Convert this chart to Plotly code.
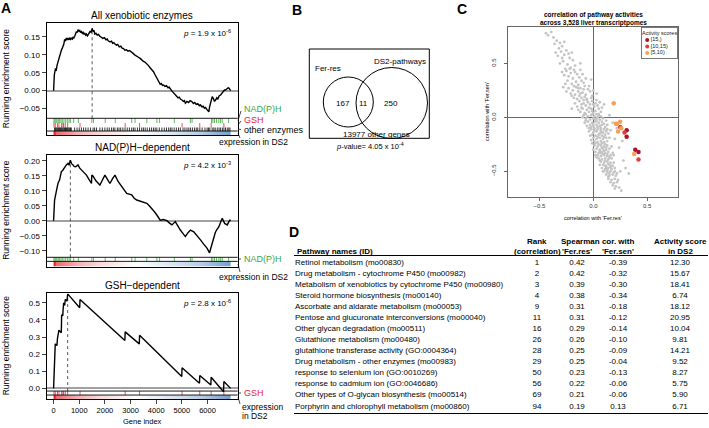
import plotly.graph_objects as go

W, H = 709, 428
FONT = "Liberation Sans, Arial, sans-serif"
GREEN = "#3aa83a"
RED = "#e3243b"

# ---------------- panel A: running enrichment scores ----------------
n_genes = 6900
gene_ticks = [0, 1000, 2000, 3000, 4000, 5000, 6000]
panel_titles = ["All xenobiotic enzymes", "NAD(P)H\u2212dependent", "GSH\u2212dependent"]
p_values = ["1.9 x 10<sup>-6</sup>", "4.2 x 10<sup>-3</sup>", "2.8 x 10<sup>-6</sup>"]

all_curve = [
    (0, 0.0), (30, 0.045), (70, 0.06), (105, 0.058), (140, 0.072), (170, 0.081), (200, 0.09), (235, 0.1),
    (270, 0.105), (300, 0.112), (335, 0.118), (366, 0.123), (400, 0.13), (431, 0.143), (470, 0.14),
    (500, 0.147), (530, 0.143), (562, 0.146), (600, 0.142), (630, 0.148), (660, 0.143), (693, 0.146),
    (730, 0.144), (760, 0.15), (790, 0.147), (823, 0.152), (860, 0.158), (890, 0.165), (920, 0.162),
    (954, 0.17), (990, 0.166), (1020, 0.168), (1050, 0.162), (1085, 0.165), (1120, 0.16), (1150, 0.163),
    (1185, 0.158), (1216, 0.16), (1250, 0.155), (1280, 0.158), (1320, 0.153), (1346, 0.156), (1380, 0.16),
    (1420, 0.165), (1460, 0.163), (1503, 0.174), (1540, 0.165), (1575, 0.168), (1608, 0.158), (1650, 0.16),
    (1700, 0.155), (1750, 0.157), (1804, 0.152), (1860, 0.15), (1920, 0.146), (1980, 0.148), (2040, 0.142),
    (2090, 0.144), (2130, 0.139), (2200, 0.136), (2260, 0.138), (2300, 0.132), (2350, 0.134), (2392, 0.13),
    (2450, 0.127), (2500, 0.129), (2560, 0.122), (2620, 0.124), (2680, 0.118), (2719, 0.118), (2780, 0.113),
    (2840, 0.114), (2900, 0.11), (2960, 0.112), (3045, 0.108), (3100, 0.104), (3160, 0.1), (3220, 0.098),
    (3290, 0.094), (3372, 0.09), (3430, 0.086), (3500, 0.082), (3560, 0.08), (3633, 0.076), (3700, 0.07),
    (3760, 0.064), (3820, 0.06), (3895, 0.053), (3950, 0.045), (4000, 0.038), (4060, 0.03), (4100, 0.025),
    (4156, 0.018), (4200, 0.02), (4240, 0.015), (4287, 0.016), (4340, 0.012), (4400, 0.014), (4460, 0.008),
    (4500, 0.01), (4548, 0.004), (4600, 0.0), (4650, -0.004), (4700, -0.008), (4744, -0.012), (4800, -0.015),
    (4850, -0.02), (4900, -0.018), (4950, -0.024), (5006, -0.026), (5060, -0.03), (5100, -0.028),
    (5137, -0.035), (5200, -0.03), (5260, -0.033), (5320, -0.028), (5398, -0.031), (5450, -0.036),
    (5500, -0.033), (5560, -0.038), (5620, -0.036), (5680, -0.042), (5725, -0.04), (5780, -0.045),
    (5830, -0.043), (5880, -0.049), (5921, -0.047), (5980, -0.053), (6020, -0.055), (6051, -0.059),
    (6080, -0.045), (6110, -0.035), (6150, -0.025), (6182, -0.017), (6230, -0.022), (6270, -0.03),
    (6313, -0.026), (6360, -0.02), (6400, -0.024), (6450, -0.015), (6509, -0.012), (6560, -0.008),
    (6600, -0.002), (6660, 0.002), (6705, 0.002), (6760, 0.006), (6800, 0.008), (6835, 0.007),
    (6870, 0.002), (6900, 0.0),
]

nadph_curve = [
    (0, 0.0), (39, 0.069), (105, 0.097), (170, 0.124), (235, 0.136), (301, 0.163), (366, 0.169),
    (431, 0.18), (497, 0.186), (562, 0.191), (600, 0.185), (654, 0.202), (700, 0.19), (758, 0.186),
    (800, 0.181), (863, 0.18), (954, 0.186), (1020, 0.175), (1085, 0.169), (1180, 0.16), (1281, 0.152),
    (1380, 0.138), (1477, 0.124), (1490, 0.152), (1542, 0.148), (1650, 0.133), (1804, 0.119), (1900, 0.135),
    (2000, 0.152), (2100, 0.138), (2196, 0.124), (2300, 0.14), (2392, 0.152), (2520, 0.13), (2653, 0.113),
    (2750, 0.1), (2849, 0.091), (3045, 0.086), (3140, 0.075), (3241, 0.069), (3340, 0.066), (3437, 0.063),
    (3540, 0.06), (3633, 0.058), (3730, 0.05), (3830, 0.041), (3930, 0.03), (4025, 0.019), (4090, 0.01),
    (4156, 0.002), (4280, 0.004), (4418, 0.0), (4520, -0.008), (4614, -0.014), (4744, -0.003),
    (4840, -0.018), (4940, -0.031), (5040, -0.042), (5137, -0.053), (5240, -0.04), (5333, -0.031),
    (5464, -0.037), (5600, -0.05), (5725, -0.064), (5850, -0.078), (5986, -0.092), (6078, -0.107),
    (6130, -0.09), (6182, -0.076), (6247, -0.048), (6300, -0.04), (6352, -0.031), (6443, -0.02),
    (6510, -0.005), (6574, 0.008), (6666, -0.009), (6770, -0.014), (6830, -0.004), (6875, 0.002),
    (6900, 0.0),
]

gsh_curve = [
    (0, 0.0), (15, 0.1), (40, 0.105), (65, 0.26), (131, 0.25), (150, 0.29), (209, 0.34), (301, 0.325),
    (314, 0.43), (360, 0.425), (366, 0.45), (392, 0.5), (431, 0.485), (457, 0.52), (523, 0.51),
    (549, 0.552), (1017, 0.471), (1030, 0.519), (2778, 0.28), (2790, 0.33), (3340, 0.26), (3352, 0.31),
    (4995, 0.07), (5007, 0.12), (5686, 0.03), (5698, 0.075), (6129, 0.02), (6141, 0.065), (6625, -0.02),
    (6637, 0.04), (6900, 0.0),
]

peak_gene = [1503, 654, 549]
peak_score = [0.174, 0.202, 0.552]

nadph_hits = [13, 52, 92, 131, 183, 235, 288, 340, 405, 471, 536, 601, 654, 784, 967, 1490, 1555, 2013,
              2405, 3045, 3176, 3633, 4025, 4130, 4705, 5333, 5398, 6155, 6208, 6273, 6352, 6443, 6509,
              6574, 6822]
gsh_hits = [15, 65, 150, 209, 314, 366, 392, 457, 549, 1030, 2790, 3352, 5007, 5698, 6141, 6637]
other_hits = [40, 70, 105, 140, 170, 200, 235, 265, 300, 330, 365, 400, 430, 465, 500, 530, 560, 595, 630,
              660, 690, 820, 915, 1000, 1085, 1170, 1255, 1345, 1440, 1540, 1600, 1675, 1805, 1900, 2000,
              2090, 2170, 2260, 2330, 2390, 2485, 2550, 2615, 2700, 2785, 2870, 2955, 3045, 3110, 3175,
              3270, 3350, 3435, 3500, 3570, 3650, 3740, 3820, 3895, 3960, 4025, 4120, 4220, 4315, 4400,
              4485, 4550, 4615, 4700, 4785, 4870, 4940, 5045, 5120, 5200, 5270, 5335, 5410, 5490, 5560,
              5620, 5700, 5790, 5900, 5985, 6040, 6090, 6180, 6245, 6300, 6380, 6450, 6510, 6580, 6640,
              6700, 6770, 6830, 6875]

# expression in DS2 (colour bar under each rug): bin edges and relative level
expr_edges = [0, 60, 1800, 4600, 6840, 6900]
expr_level = [1.0, 0.35, 0.0, -0.35, -1.0]

# ---------------- panel B: Venn ----------------
venn_sets = ["Fer-res", "DS2-pathways"]
venn_counts = [167, 11, 250]
venn_other = 13977
venn_p = "4.05 x 10<sup>-4</sup>"

# ---------------- panel C: correlation scatter ----------------
cloud = [
    (-0.44, 0.78), (-0.42, 0.76), (-0.39, 0.79), (-0.37, 0.74), (-0.34, 0.71), (-0.31, 0.69), (-0.29, 0.66),
    (-0.36, 0.68), (-0.27, 0.70), (-0.32, 0.64),
    (-0.30, 0.61), (-0.27, 0.58), (-0.25, 0.62), (-0.33, 0.57), (-0.22, 0.55), (-0.28, 0.52), (-0.24, 0.49),
    (-0.19, 0.53), (-0.31, 0.50), (-0.21, 0.46), (-0.26, 0.45), (-0.17, 0.48), (-0.23, 0.59), (-0.29, 0.55),
    (-0.20, 0.60), (-0.35, 0.60),
    (-0.25, 0.43), (-0.21, 0.41), (-0.18, 0.44), (-0.15, 0.40), (-0.23, 0.38), (-0.19, 0.36), (-0.13, 0.37),
    (-0.27, 0.39), (-0.16, 0.33), (-0.11, 0.34), (-0.20, 0.31), (-0.14, 0.30), (-0.09, 0.32), (-0.24, 0.34),
    (-0.17, 0.42), (-0.12, 0.44), (-0.29, 0.42), (-0.07, 0.36), (-0.22, 0.45), (-0.10, 0.40), (-0.18, 0.29),
    (-0.26, 0.31),
    (-0.16, 0.28), (-0.12, 0.27), (-0.08, 0.29), (-0.19, 0.25), (-0.14, 0.24), (-0.10, 0.23), (-0.05, 0.26),
    (-0.21, 0.22), (-0.17, 0.21), (-0.13, 0.20), (-0.07, 0.21), (-0.03, 0.24), (-0.11, 0.18), (-0.15, 0.17),
    (-0.06, 0.17), (-0.01, 0.20), (-0.09, 0.26), (-0.18, 0.18), (-0.04, 0.29), (-0.23, 0.27), (0.00, 0.25),
    (-0.12, 0.22), (-0.08, 0.19), (-0.02, 0.18), (-0.20, 0.20), (-0.14, 0.27), (0.03, 0.22), (-0.25, 0.24),
    (-0.13, 0.15), (-0.09, 0.16), (-0.05, 0.14), (-0.01, 0.15), (0.02, 0.13), (-0.11, 0.12), (-0.07, 0.11),
    (-0.03, 0.12), (0.01, 0.10), (0.04, 0.11), (-0.15, 0.10), (-0.10, 0.08), (-0.06, 0.07), (-0.02, 0.08),
    (0.02, 0.06), (0.05, 0.08), (-0.12, 0.05), (-0.08, 0.04), (-0.04, 0.05), (0.00, 0.04), (0.03, 0.03),
    (0.07, 0.05), (-0.17, 0.13), (-0.14, 0.07), (-0.06, 0.16), (0.00, 0.12), (0.06, 0.14), (-0.09, 0.13),
    (-0.04, 0.09), (0.08, 0.09), (-0.11, 0.09), (0.03, 0.16), (-0.01, 0.06), (-0.07, 0.03), (0.05, 0.02),
    (0.10, 0.12),
    (-0.09, 0.02), (-0.05, 0.01), (-0.02, 0.02), (0.01, 0.01), (0.04, 0.00), (0.07, 0.01), (-0.07, -0.01),
    (-0.03, -0.02), (0.00, -0.01), (0.03, -0.03), (0.06, -0.02), (0.09, -0.01), (-0.05, -0.04),
    (-0.01, -0.05), (0.02, -0.04), (0.05, -0.05), (0.08, -0.04), (-0.08, -0.05), (-0.03, -0.07),
    (0.00, -0.08), (0.03, -0.07), (0.06, -0.08), (0.10, -0.06), (-0.06, -0.08), (-0.02, -0.09),
    (0.01, -0.10), (0.04, -0.09), (0.07, -0.10), (0.11, -0.09), (-0.04, -0.10), (0.02, -0.02),
    (-0.10, 0.00), (0.12, -0.03), (-0.01, 0.03), (0.05, 0.03), (0.08, -0.07), (-0.07, -0.03),
    (0.00, -0.06), (0.13, -0.07), (0.03, -0.01),
    (-0.02, -0.11), (0.01, -0.12), (0.04, -0.11), (0.07, -0.12), (0.10, -0.11), (-0.04, -0.13),
    (0.00, -0.14), (0.03, -0.13), (0.06, -0.15), (0.09, -0.14), (0.12, -0.13), (-0.01, -0.16),
    (0.02, -0.17), (0.05, -0.16), (0.08, -0.17), (0.11, -0.16), (0.14, -0.15), (0.00, -0.19),
    (0.03, -0.20), (0.06, -0.19), (0.09, -0.20), (0.12, -0.19), (-0.02, -0.21), (0.01, -0.22),
    (0.04, -0.23), (0.07, -0.22), (0.10, -0.23), (0.13, -0.22), (0.02, -0.24), (0.05, -0.25),
    (0.08, -0.24), (0.11, -0.25), (-0.03, -0.17), (0.15, -0.19), (0.16, -0.12), (0.04, -0.18),
    (0.07, -0.14), (-0.01, -0.24), (0.13, -0.11), (0.10, -0.18),
    (0.01, -0.26), (0.04, -0.27), (0.07, -0.26), (0.10, -0.27), (0.13, -0.26), (0.03, -0.29),
    (0.06, -0.30), (0.09, -0.29), (0.12, -0.30), (0.15, -0.29), (0.02, -0.32), (0.05, -0.33),
    (0.08, -0.32), (0.11, -0.33), (0.14, -0.32), (0.04, -0.35), (0.07, -0.36), (0.10, -0.35),
    (0.13, -0.36), (0.16, -0.35), (0.05, -0.38), (0.08, -0.39), (0.11, -0.38), (0.14, -0.39),
    (0.17, -0.38), (0.06, -0.31), (0.09, -0.34), (0.12, -0.28), (0.00, -0.30), (0.18, -0.33),
    (0.03, -0.37), (0.15, -0.37), (0.08, -0.28), (0.11, -0.40), (0.07, -0.33), (0.13, -0.34),
    (0.17, -0.27), (0.02, -0.35), (0.10, -0.31), (0.06, -0.40),
    (0.07, -0.41), (0.10, -0.42), (0.13, -0.41), (0.16, -0.42), (0.09, -0.44), (0.12, -0.45),
    (0.15, -0.44), (0.18, -0.45), (0.08, -0.47), (0.11, -0.48), (0.14, -0.47), (0.17, -0.48),
    (0.20, -0.47), (0.10, -0.50), (0.13, -0.51), (0.16, -0.50), (0.19, -0.51), (0.12, -0.53),
    (0.15, -0.54), (0.18, -0.53), (0.21, -0.54), (0.06, -0.44), (0.14, -0.43), (0.19, -0.42),
    (0.11, -0.45), (0.17, -0.45), (0.13, -0.49), (0.09, -0.50), (0.15, -0.52), (0.20, -0.50),
    (0.12, -0.47), (0.22, -0.52), (0.16, -0.46), (0.14, -0.55),
    (0.14, -0.57), (0.17, -0.58), (0.20, -0.57), (0.16, -0.60), (0.19, -0.61), (0.22, -0.60),
    (0.18, -0.63), (0.21, -0.64), (0.20, -0.66), (0.24, -0.65), (0.26, -0.68), (0.23, -0.58),
    (0.20, -0.20), (0.24, -0.28), (0.28, -0.40), (0.30, -0.47), (0.22, -0.10), (0.18, -0.05),
    (0.15, 0.02), (-0.20, 0.08), (-0.28, 0.28), (0.25, -0.50), (0.33, -0.52), (-0.12, 0.50),
    (0.19, -0.35), (0.27, -0.22), (-0.02, 0.35),
]
activity_classes = ["[15,)", "[10,15)", "[5,10)"]
activity_colors = ["#a8122e", "#e0402f", "#f5a055"]

# ---------------- panel D: table ----------------
pathways = [
    "Retinol metabolism (mo00830)",
    "Drug metabolism - cytochrome P450 (mo00982)",
    "Metabolism of xenobiotics by cytochrome P450 (mo00980)",
    "Steroid hormone biosynthesis (mo00140)",
    "Ascorbate and aldarate metabolism (mo00053)",
    "Pentose and glucuronate interconversions (mo00040)",
    "Other glycan degradation (mo00511)",
    "Glutathione metabolism (mo00480)",
    "glutathione transferase activity (GO:0004364)",
    "Drug metabolism - other enzymes (mo00983)",
    "response to selenium ion (GO:0010269)",
    "response to cadmium ion (GO:0046686)",
    "Other types of O-glycan biosynthesis (mo00514)",
    "Porphyrin and chlorophyll metabolism (mo00860)",
]
rank = [1, 2, 3, 4, 9, 11, 16, 26, 28, 29, 50, 56, 69, 94]
cor_fer_res = [0.42, 0.42, 0.39, 0.38, 0.31, 0.31, 0.29, 0.26, 0.25, 0.25, 0.23, 0.22, 0.21, 0.19]
cor_fer_sen = [-0.39, -0.32, -0.30, -0.34, -0.18, -0.12, -0.14, -0.10, -0.09, -0.04, -0.13, -0.06, -0.06, 0.13]
activity = [12.30, 15.67, 18.41, 6.74, 18.12, 20.95, 10.04, 9.81, 14.21, 9.52, 8.27, 5.75, 5.90, 6.71]


def px(x):
    return x / W


def py(y):
    return 1 - y / H


fig = go.Figure()
shapes = []
ann = []


def text(x, y, s, size=9, color="black", xanchor="center", bold=False, angle=0, yanchor="middle"):
    ann.append(dict(x=px(x), y=py(y), xref="paper", yref="paper", text=f"<b>{s}</b>" if bold else s,
                    showarrow=False, xanchor=xanchor, yanchor=yanchor, textangle=angle,
                    font=dict(family=FONT, size=size, color=color)))


# panel A layout: pixel top/bottom, y-range, bottom of the curve area, rug rows, colour bar
a_panels = [
    dict(top=23.3, bot=135, yr=[-0.1237, 0.188], main=-0.0771,
         rugs=[(nadph_hits, GREEN, -0.0771, -0.0902), (gsh_hits, RED, -0.0902, -0.1028),
               (other_hits, "black", -0.1028, -0.1126)],
         grad=(-0.1126, -0.1237), ticks=[-0.05, 0, 0.05, 0.1, 0.15], fmt=".2f", curve=all_curve),
    dict(top=155, bot=266.7, yr=[-0.1533, 0.219], main=-0.122,
         rugs=[(nadph_hits, GREEN, -0.122, -0.1355)],
         grad=(-0.1355, -0.1533), ticks=[-0.1, -0.05, 0, 0.05, 0.1, 0.15, 0.2], fmt=".2f", curve=nadph_curve),
    dict(top=293.4, bot=399.3, yr=[-0.0639, 0.555], main=-0.0157,
         rugs=[(gsh_hits, RED, -0.0157, -0.039)],
         grad=(-0.039, -0.0639), ticks=[0, 0.1, 0.2, 0.3, 0.4, 0.5], fmt=".1f", curve=gsh_curve),
]
AX0, AX1 = 46.5, 237.7
xr = [-0.04 * n_genes, 1.04 * n_genes]

for i, p in enumerate(a_panels):
    k = "" if i == 0 else str(i + 1)
    xa, ya = "x" + k, "y" + k
    cx = [c[0] for c in p["curve"]]
    cy = [c[1] for c in p["curve"]]
    fig.add_trace(go.Heatmap(x=expr_edges, y=list(p["grad"][::-1]), z=[expr_level], zsmooth="best",
                             zmin=-1, zmax=1, showscale=False, hoverinfo="skip",
                             colorscale=[[0, "#2f72b8"], [0.5, "#ffffff"], [1, "#e0242b"]],
                             xaxis=xa, yaxis=ya))
    for hits, col, y0, y1 in p["rugs"]:
        rx, ry = [], []
        for g in hits:
            rx += [g, g, None]
            ry += [y0, y1, None]
        fig.add_trace(go.Scatter(x=rx, y=ry, mode="lines", line=dict(color=col, width=0.8),
                                 hoverinfo="skip", showlegend=False, xaxis=xa, yaxis=ya))
    fig.add_trace(go.Scatter(x=[peak_gene[i], peak_gene[i]], y=[p["main"], peak_score[i]], mode="lines",
                             line=dict(color="#444", width=0.9, dash="dot"), showlegend=False,
                             xaxis=xa, yaxis=ya))
    fig.add_trace(go.Scatter(x=cx, y=cy, mode="lines", line=dict(color="black", width=1.4),
                             showlegend=False, xaxis=xa, yaxis=ya))
    for yv in [p["main"], p["grad"][0]]:
        shapes.append(dict(type="line", xref=xa + " domain", yref=ya, x0=0, x1=1, y0=yv, y1=yv,
                           line=dict(color="black", width=0.9)))
    fig.update_layout({
        "xaxis" + k: dict(domain=[px(AX0), px(AX1)], range=xr, anchor=ya, showline=True, mirror=True,
                          linecolor="black", linewidth=1, showgrid=False, zeroline=False,
                          tickvals=gene_ticks if i == 2 else [], ticks="outside" if i == 2 else "",
                          ticklen=4, tickfont=dict(family=FONT, size=7.5), ticklabelstandoff=0),
        "yaxis" + k: dict(domain=[py(p["bot"]), py(p["top"])], range=p["yr"], anchor=xa, showline=True,
                          mirror=True, linecolor="black", linewidth=1, showgrid=False, zeroline=True,
                          zerolinecolor="#a0a0a0", zerolinewidth=1.5, tickvals=p["ticks"],
                          tickformat=p["fmt"], ticks="outside", ticklen=4,
                          tickfont=dict(family=FONT, size=8)),
    })
    text((AX0 + AX1) / 2, p["top"] - 8, panel_titles[i], size=10)
    text(233, p["top"] + 10, f"<i>p</i> = {p_values[i]}", size=8, xanchor="right")
    text(6, (p["top"] + p["bot"]) / 2, "Running enrichment score", size=8.5, angle=-90)

# rug labels on the right of panel A
text(242, 109, "NAD(P)H", color=GREEN, xanchor="left")
text(242, 120, "GSH", color=RED, xanchor="left")
text(242, 130, "other enzymes", color="black", xanchor="left")
text(217, 142, "expression in DS2", xanchor="left", size=8.5)
text(242, 259, "NAD(P)H", color=GREEN, xanchor="left")
text(217, 277, "expression in DS2", xanchor="left", size=8.5)
text(242, 393, "GSH", color=RED, xanchor="left")
text(240, 407, "expression", xanchor="left", size=8.5)
text(240, 416, "in DS2", xanchor="left", size=8.5)
text((AX0 + AX1) / 2, 421, "Gene index", size=7.5)
for (x0, y0, x1, y1) in [(238, 120.6, 241, 111), (238, 125, 241, 121), (238, 129, 241, 129.5),
                         (238, 133, 240, 138), (238, 259, 241, 259), (238, 264, 240, 272),
                         (238, 393, 241, 393), (238, 397, 240, 404)]:
    shapes.append(dict(type="line", xref="paper", yref="paper", x0=px(x0), y0=py(y0), x1=px(x1), y1=py(y1),
                       line=dict(color="black", width=0.7)))

# ---------------- panel B ----------------
shapes.append(dict(type="rect", xref="paper", yref="paper", x0=px(309.3), x1=px(429.3), y0=py(49),
                   y1=py(138.3), line=dict(color="black", width=1)))
shapes.append(dict(type="circle", xref="paper", yref="paper", x0=px(323.3), x1=px(373.3), y0=py(77),
                   y1=py(127), line=dict(color="black", width=1)))
shapes.append(dict(type="circle", xref="paper", yref="paper", x0=px(356), x1=px(427.5), y0=py(67.5),
                   y1=py(138.5), line=dict(color="black", width=1)))
text(313, 68, venn_sets[0], size=8, xanchor="left")
text(400, 62, venn_sets[1], size=8)
text(343, 103, str(venn_counts[0]), size=8)
text(363.5, 103, str(venn_counts[1]), size=8)
text(391, 103, str(venn_counts[2]), size=8)
text(377, 134, f"{venn_other} other genes", size=8)
text(370, 146, f"<i>p</i>-value= {venn_p}", size=7.5)

# ---------------- panel C ----------------
fig.add_trace(go.Scatter(x=[c[0] for c in cloud], y=[c[1] for c in cloud], mode="markers",
                         marker=dict(color="#c4c4c4", size=2.8), showlegend=False,
                         xaxis="x4", yaxis="y4"))


def act_class(v):
    return activity_classes[0] if v >= 15 else (activity_classes[1] if v >= 10 else activity_classes[2])


for cls, col in zip(activity_classes, activity_colors):
    idx = [j for j, v in enumerate(activity) if act_class(v) == cls]
    fig.add_trace(go.Scatter(x=[cor_fer_res[j] for j in idx], y=[cor_fer_sen[j] for j in idx],
                             mode="markers", name=cls, marker=dict(color=col, size=4.5), showlegend=False,
                             xaxis="x4", yaxis="y4"))

c_ax = dict(showline=True, mirror=True, linecolor="#666", linewidth=1, showgrid=False, zeroline=True,
            zerolinecolor="#666", zerolinewidth=1, tickvals=[-0.5, 0, 0.5], ticktext=["\u22120.5", "0.0", "0.5"],
            ticks="outside", ticklen=3, tickcolor="#666", tickfont=dict(family=FONT, size=6, color="#333"))
fig.update_layout(
    xaxis4=dict(c_ax, domain=[px(508.3), px(678.3)], range=[-0.79, 0.79], anchor="y4"),
    yaxis4=dict(c_ax, domain=[py(196.7), py(26.7)], range=[-0.735, 0.84], anchor="x4", tickangle=-90,
                ticklabelstandoff=6),
)
text(593, 15, "correlation of pathway activities", size=6.5, bold=True)
text(593, 22.5, "across 3,528 liver transcriptpomes", size=6.5, bold=True)
text(593, 218.5, "correlation with 'Fer.res'", size=5.5)
text(487, 112, "correlation with 'Fer.sen'", size=5.5, angle=-90)

# small boxed key for the activity classes (one row per class)
LEG_TOP, LEG_BOT, LEG_ROW0, LEG_STEP = 28.3, 58.3, 40, 6.5
for j, (cls, col) in enumerate(zip(activity_classes, activity_colors)):
    fig.add_trace(go.Scatter(x=[5.5], y=[j], mode="markers+text", text=[cls], textposition="middle right",
                             marker=dict(color=col, size=4), textfont=dict(family=FONT, size=5.5, color="#222"),
                             showlegend=False, hoverinfo="skip", xaxis="x6", yaxis="y6"))
fig.update_layout(
    xaxis6=dict(domain=[px(641.7), px(677.3)], range=[0, 35.6], anchor="y6", showline=True, mirror=True,
                linecolor="#777", linewidth=0.8, showticklabels=False, ticks="", showgrid=False, zeroline=False),
    yaxis6=dict(domain=[py(LEG_BOT), py(LEG_TOP)],
                range=[(LEG_BOT - LEG_ROW0) / LEG_STEP, (LEG_TOP - LEG_ROW0) / LEG_STEP], anchor="x6",
                showline=True, mirror=True, linecolor="#777", linewidth=0.8, showticklabels=False, ticks="",
                showgrid=False, zeroline=False),
)
text(659.5, 33, "Activity scores", size=5.5, color="#222")

# ---------------- panel D: table ----------------
ROW0, ROWSTEP = 262.5, 11.08
col_x = dict(name=295, rank=537, res=577, sen=618, act=680)
rows = list(range(len(pathways)))
table_cols = [
    (pathways, col_x["name"], "middle right"),
    ([str(r) for r in rank], col_x["rank"], "middle center"),
    ([f"{v:.2f}" for v in cor_fer_res], col_x["res"], "middle center"),
    ([f"{v:.2f}" for v in cor_fer_sen], col_x["sen"], "middle center"),
    ([f"{v:.2f}" for v in activity], col_x["act"], "middle center"),
]
for vals, x, pos in table_cols:
    fig.add_trace(go.Scatter(x=[x] * len(vals), y=rows, text=vals, mode="text", textposition=pos,
                             textfont=dict(family=FONT, size=8, color="black"), showlegend=False,
                             hoverinfo="skip", xaxis="x5", yaxis="y5"))
fig.update_layout(
    xaxis5=dict(domain=[px(280), 1], range=[280, W], anchor="y5", visible=False),
    yaxis5=dict(domain=[0, py(232)], range=[(H - ROW0) / ROWSTEP, (232 - ROW0) / ROWSTEP], anchor="x5",
                visible=False),
)
text(col_x["name"], 251, "Pathway names (ID)", size=8, xanchor="left", bold=True)
text(col_x["rank"], 241, "Rank", size=8, bold=True)
text(col_x["rank"], 251, "(correlation)", size=8, bold=True)
text((col_x["res"] + col_x["sen"]) / 2, 241, "Spearman cor. with", size=8, bold=True)
text(col_x["res"], 251, "'Fer.res'", size=8, bold=True)
text(col_x["sen"], 251, "'Fer.sen'", size=8, bold=True)
text(col_x["act"], 241, "Activity score", size=8, bold=True)
text(col_x["act"], 251, "in DS2", size=8, bold=True)
shapes.append(dict(type="line", xref="paper", yref="paper", x0=px(294), x1=px(708), y0=py(255.5), y1=py(255.5),
                   line=dict(color="black", width=1)))
shapes.append(dict(type="line", xref="paper", yref="paper", x0=px(294), x1=px(708), y0=py(413.5),
                   y1=py(413.5), line=dict(color="black", width=1)))

# panel letters
for letter, x, y in [("A", 6, 8), ("B", 296.7, 10), ("C", 462, 9), ("D", 294.3, 231.7)]:
    text(x, y, letter, size=14, bold=True)

fig.update_layout(
    width=W, height=H, margin=dict(l=0, r=0, t=0, b=0), paper_bgcolor="white",
    plot_bgcolor="rgba(0,0,0,0)", font=dict(family=FONT, color="black"), shapes=shapes, annotations=ann,
    showlegend=False,
)

fig.write_html("out.html", config={"displayModeBar": False},
               post_script="document.body.style.margin='0px';")
